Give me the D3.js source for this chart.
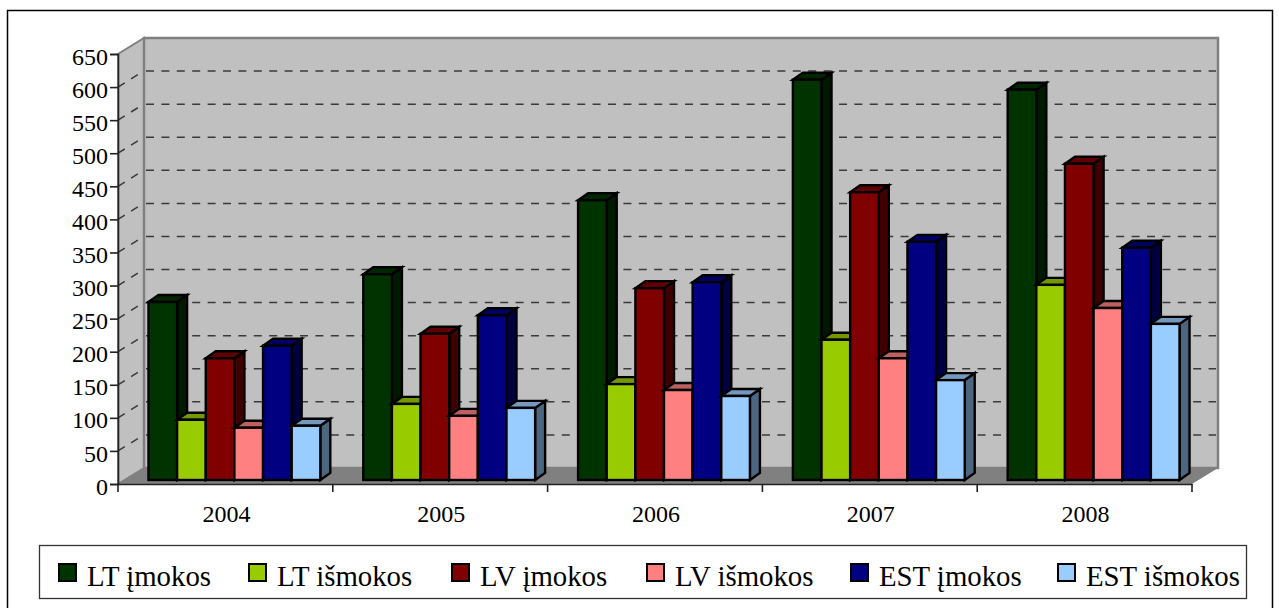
<!DOCTYPE html>
<html><head><meta charset="utf-8">
<script src="https://cdn.jsdelivr.net/npm/d3@7/dist/d3.min.js"></script>
<style>html,body{margin:0;padding:0;background:#fff;overflow:hidden}svg{display:block}text{font-family:"Liberation Serif",serif;fill:#000}</style>
</head><body><svg id="c" width="1279" height="608"></svg>
<script>
const years = ["2004","2005","2006","2007","2008"];
const seriesNames = ["LT įmokos","LT išmokos","LV įmokos","LV išmokos","EST įmokos","EST išmokos"];
const seriesColors = ["#003300","#99CC00","#800000","#FF8080","#000080","#99CCFF"];
const ltIn  = [269,311,423,605,590];
const ltOut = [91,115,145,212,295];
const lvIn  = [184,221,290,435,478];
const lvOut = [79,97,136,184,260];
const estIn = [203,249,299,360,351];
const estOut= [82,109,127,151,236];
const allSeries = [ltIn,ltOut,lvIn,lvOut,estIn,estOut];
const yTicks = d3.range(0,651,50);
const legendSwatchX = [58,248,451,646,850,1057];

const svg = d3.select("#c");
const L=118,R=1192,B=484,T=54, DX=26,DY=-16, barDX=10,barDY=-7, barBase=480;
const y = d3.scaleLinear().domain([0,650]).range([B,T]);
const xAxisScale = d3.scaleBand().domain(years).range([L,R]);
const xCat = d3.scaleBand().domain(years).range([L+9,R+9]).paddingInner(0.2).paddingOuter(0.1);
const xSer = d3.scaleBand().domain(d3.range(6)).range([0,xCat.bandwidth()]);

svg.append("rect").attr("x",7.5).attr("y",10.5).attr("width",1265).attr("height",620).attr("fill","#fff").attr("stroke","#000").attr("stroke-width",1.5);

const poly=(pts,fill,stroke,sw)=>svg.append("polygon").attr("points",pts.map(p=>p.join(",")).join(" ")).attr("fill",fill).attr("stroke",stroke||"none").attr("stroke-width",sw||0).attr("stroke-linejoin","miter");
poly([[L,B],[L+DX,B+DY],[L+DX,T+DY],[L,T]],"#C0C0C0","#808080",2);
poly([[L+DX,B+DY],[R+DX,B+DY],[R+DX,T+DY],[L+DX,T+DY]],"#C0C0C0","#808080",2.5);
poly([[L,B],[R,B],[R+DX,B+DY],[L+DX,B+DY]],"#808080");

const g=svg.append("g").attr("stroke","#3a3a3a").attr("stroke-width",1.5).attr("fill","none");
yTicks.filter(v=>v>0&&v<650).forEach(v=>{
  g.append("line").attr("x1",L+DX+2).attr("x2",R+DX-2).attr("y1",y(v)+DY).attr("y2",y(v)+DY).attr("stroke-dasharray","8,7.4");
  g.append("line").attr("x1",L).attr("x2",L+DX-2).attr("y1",y(v)).attr("y2",y(v)+DY+1).attr("stroke-dasharray","8,7.4");
});

const shade=(c,k)=>{const r=d3.rgb(c);return d3.rgb(r.r*k,r.g*k,r.b*k).formatHex();};
const h=v=>y(0)-y(v);
years.forEach((yr,i)=>{
  allSeries.forEach((s,j)=>{
    const x0=xCat(yr)+xSer(j), w=xSer.bandwidth(), t=barBase-h(s[i]), c=seriesColors[j];
    const st="#000", sw=2.4;
    poly([[x0+w,barBase],[x0+w+barDX,barBase+barDY],[x0+w+barDX,t+barDY],[x0+w,t]],shade(c,.5),st,sw);
    poly([[x0,t],[x0+barDX,t+barDY],[x0+w+barDX,t+barDY],[x0+w,t]],shade(c,.75),st,sw);
    svg.append("rect").attr("x",x0).attr("y",t).attr("width",w).attr("height",barBase-t).attr("fill",c).attr("stroke",st).attr("stroke-width",sw);
  });
});

const ya=svg.append("g").attr("transform",`translate(${L},0)`).call(d3.axisLeft(y).tickValues(yTicks).tickSize(8).tickPadding(2).tickFormat(d3.format("d")));
const xa=svg.append("g").attr("transform",`translate(0,${B})`).call(d3.axisBottom(xAxisScale).tickSize(0).tickPadding(21));
xa.selectAll(".tick").append("line").attr("x1",-xAxisScale.bandwidth()/2).attr("x2",-xAxisScale.bandwidth()/2).attr("y2",8);
xa.append("line").attr("x1",R).attr("x2",R).attr("y2",8);
[ya,xa].forEach(a=>{a.selectAll("path,line").attr("stroke","#222").attr("stroke-width",1.6);
  a.selectAll("text").attr("font-size",24).attr("font-family","Liberation Serif").attr("fill","#000");});
ya.selectAll("text").attr("dy","0.42em");
xa.selectAll("text").attr("dx",1);

svg.append("rect").attr("x",39.5).attr("y",545.5).attr("width",1207).attr("height",53).attr("fill","#fff").attr("stroke","#333").attr("stroke-width",1.3);
seriesNames.forEach((n,i)=>{
  svg.append("rect").attr("x",legendSwatchX[i]+1).attr("y",564).attr("width",17).attr("height",17).attr("fill",seriesColors[i]).attr("stroke","#000").attr("stroke-width",2);
  svg.append("text").attr("x",legendSwatchX[i]+29).attr("y",585.5).attr("font-size",28.8).text(n);
});
</script></body></html>
